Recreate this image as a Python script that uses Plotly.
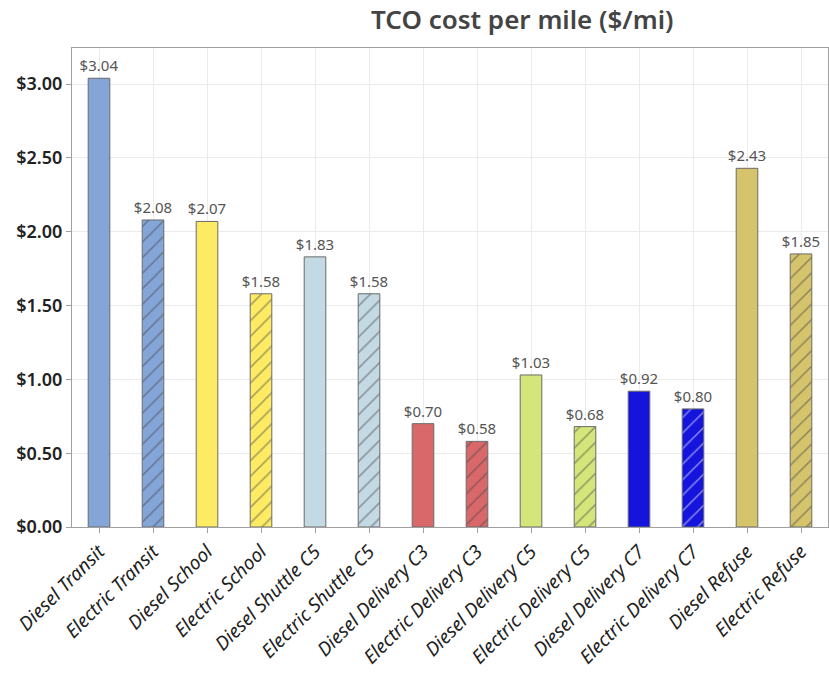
import plotly.graph_objects as go

categories = [
    "Diesel Transit", "Electric Transit", "Diesel School", "Electric School",
    "Diesel Shuttle C5", "Electric Shuttle C5", "Diesel Delivery C3",
    "Electric Delivery C3", "Diesel Delivery C5", "Electric Delivery C5",
    "Diesel Delivery C7", "Electric Delivery C7", "Diesel Refuse", "Electric Refuse",
]
cost_per_mile = [3.04, 2.08, 2.07, 1.58, 1.83, 1.58, 0.70, 0.58, 1.03, 0.68, 0.92, 0.80, 2.43, 1.85]
bar_colors = [
    "#84A5D8", "#84A5D8", "#FDEB64", "#FDEB64", "#C3D9E3", "#C3D9E3", "#D9686A",
    "#D9686A", "#D4E67A", "#D4E67A", "#1414DC", "#1414DC", "#D5C46C", "#D5C46C",
]
# electric variants are hatched
hatch = ["" if c.startswith("Diesel") else "/" for c in categories]
y_ticks = [0, 0.5, 1.0, 1.5, 2.0, 2.5, 3.0]
y_tick_labels = ["$%.2f" % v for v in y_ticks]

FONT = "Noto Sans"

fig = go.Figure(
    go.Bar(
        x=categories,
        y=cost_per_mile,
        width=0.4,
        marker=dict(
            color=bar_colors,
            line=dict(color="#6a6a6a", width=1),
            pattern=dict(
                shape=hatch, fgcolor="#333333",
                size=11, solidity=0.14, fillmode="overlay",
            ),
        ),
        texttemplate="$%{y:.2f}",
        textposition="outside",
        textangle=0,
        constraintext="none",
        textfont=dict(family=FONT, size=15, color="#555555"),
        cliponaxis=False,
        hoverinfo="x+y",
    )
)

fig.update_layout(
    width=829,
    height=675,
    margin=dict(l=72, r=1, t=48, b=148),
    paper_bgcolor="white",
    plot_bgcolor="white",
    showlegend=False,
    title=dict(
        text="TCO cost per mile ($/mi)",
        font=dict(family=FONT, size=26, color="#444444", weight=600),
        x=0.63, xanchor="center",
        y=0.97, yanchor="middle",
    ),
)

fig.update_xaxes(
    range=[-0.5, len(categories) - 0.5],
    tickangle=-45,
    tickfont=dict(family=FONT, size=19, color="#222222", style="italic"),
    showgrid=True, gridcolor="#ebebeb",
    showline=True, linecolor="#a0a0a0", mirror=True,
    ticks="outside", ticklen=5, tickcolor="#a0a0a0",
)
fig.update_yaxes(
    range=[0, 3.245],
    tickmode="array",
    tickvals=y_ticks,
    ticktext=y_tick_labels,
    tickfont=dict(family=FONT, size=18, color="#222222", weight=600),
    showgrid=True, gridcolor="#ebebeb",
    showline=True, linecolor="#a0a0a0", mirror=True,
    ticks="outside", ticklen=5, tickcolor="#a0a0a0",
    zeroline=False,
)

fig.write_html("out.html")
